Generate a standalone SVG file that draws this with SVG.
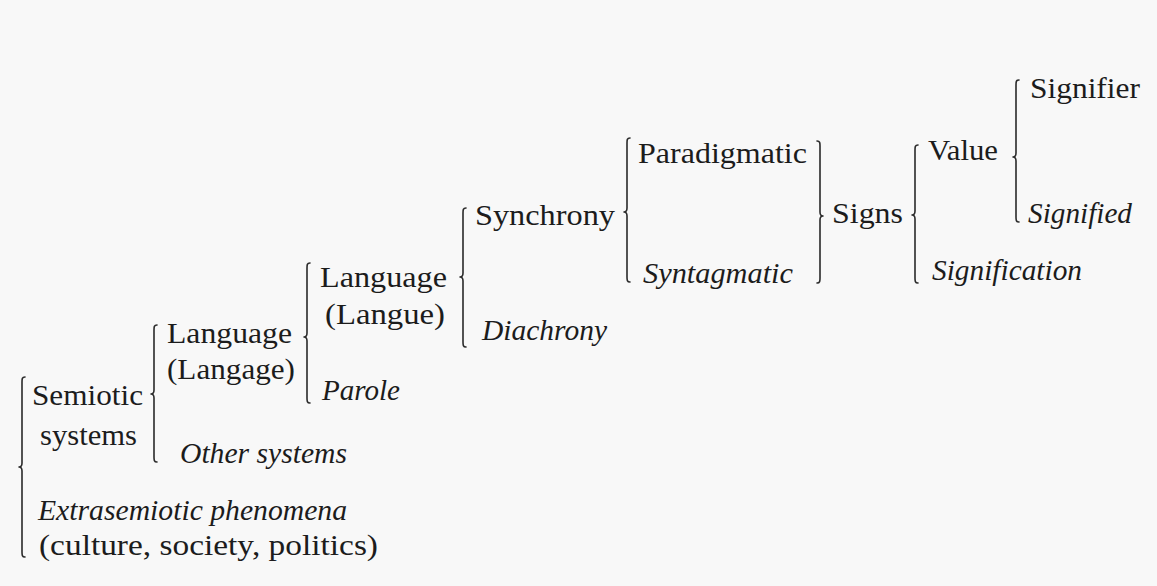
<svg xmlns="http://www.w3.org/2000/svg" width="1157" height="586" viewBox="0 0 1157 586">
<style>
text{font-family:"Liberation Serif","Times New Roman",serif;font-size:29px;fill:#1c1c1c}
.i{font-style:italic}
.br{fill:none;stroke:#2a2a2a;stroke-width:1.6;stroke-linecap:round;stroke-linejoin:round}
</style>
<rect x="0" y="0" width="1157" height="586" fill="#f8f8f8"/>
<g id="connectors">
<path class="br" d="M25,377 C22,377 22,379 22,382 L22,463 C22,466 21,467 19,467 C21,467 22,468 22,471 L22,552 C22,555 22,557 25,557"/>
<path class="br" d="M157,325 C154,325 154,327 154,330 L154,390 C154,393 153,394 151,394 C153,394 154,395 154,398 L154,457 C154,460 154,462 157,462"/>
<path class="br" d="M310,263 C307,263 307,265 307,268 L307,333 C307,336 306,337 304,337 C306,337 307,338 307,341 L307,398 C307,401 307,403 310,403"/>
<path class="br" d="M466,208 C463,208 463,210 463,213 L463,273 C463,276 462,277 460,277 C462,277 463,278 463,281 L463,342 C463,345 463,347 466,347"/>
<path class="br" d="M630,138 C627,138 627,140 627,143 L627,208 C627,211 626,212 624,212 C626,212 627,213 627,216 L627,277 C627,280 627,282 630,282"/>
<path class="br" d="M817,141 C820,141 820,143 820,146 L820,212 C820,215 821,216 823,216 C821,216 820,217 820,220 L820,278 C820,281 820,283 817,283"/>
<path class="br" d="M918,145 C915,145 915,147 915,150 L915,211 C915,214 914,215 912,215 C914,215 915,216 915,219 L915,278 C915,281 915,283 918,283"/>
<path class="br" d="M1019,80 C1016,80 1016,82 1016,85 L1016,153 C1016,156 1015,157 1013,157 C1015,157 1016,158 1016,161 L1016,217 C1016,220 1016,222 1019,222"/>
</g>
<g id="semiotic-systems"><text x="32" y="405" textLength="111" lengthAdjust="spacingAndGlyphs">Semiotic</text><text x="40" y="445" textLength="97" lengthAdjust="spacingAndGlyphs">systems</text></g>
<g id="extrasemiotic"><text class="i" x="38" y="520" textLength="309" lengthAdjust="spacingAndGlyphs">Extrasemiotic phenomena</text><text x="39" y="555" textLength="339" lengthAdjust="spacingAndGlyphs">(culture, society, politics)</text></g>
<g id="language-langage"><text x="167" y="343" textLength="125" lengthAdjust="spacingAndGlyphs">Language</text><text x="167" y="379" textLength="128" lengthAdjust="spacingAndGlyphs">(Langage)</text></g>
<g id="other-systems"><text class="i" x="180" y="463" textLength="167" lengthAdjust="spacingAndGlyphs">Other systems</text></g>
<g id="language-langue"><text x="320" y="287" textLength="127" lengthAdjust="spacingAndGlyphs">Language</text><text x="325" y="324" textLength="120" lengthAdjust="spacingAndGlyphs">(Langue)</text></g>
<g id="parole"><text class="i" x="322" y="400" textLength="78" lengthAdjust="spacingAndGlyphs">Parole</text></g>
<g id="synchrony"><text x="475" y="225" textLength="140" lengthAdjust="spacingAndGlyphs">Synchrony</text></g>
<g id="diachrony"><text class="i" x="482" y="340" textLength="125" lengthAdjust="spacingAndGlyphs">Diachrony</text></g>
<g id="paradigmatic"><text x="638" y="163" textLength="169" lengthAdjust="spacingAndGlyphs">Paradigmatic</text></g>
<g id="syntagmatic"><text class="i" x="643" y="283" textLength="150" lengthAdjust="spacingAndGlyphs">Syntagmatic</text></g>
<g id="signs"><text x="832" y="223" textLength="71" lengthAdjust="spacingAndGlyphs">Signs</text></g>
<g id="value"><text x="928" y="160" textLength="70" lengthAdjust="spacingAndGlyphs">Value</text></g>
<g id="signification"><text class="i" x="932" y="280" textLength="150" lengthAdjust="spacingAndGlyphs">Signification</text></g>
<g id="signifier"><text x="1030" y="98" textLength="110" lengthAdjust="spacingAndGlyphs">Signifier</text></g>
<g id="signified"><text class="i" x="1028" y="223" textLength="104" lengthAdjust="spacingAndGlyphs">Signified</text></g>
</svg>
